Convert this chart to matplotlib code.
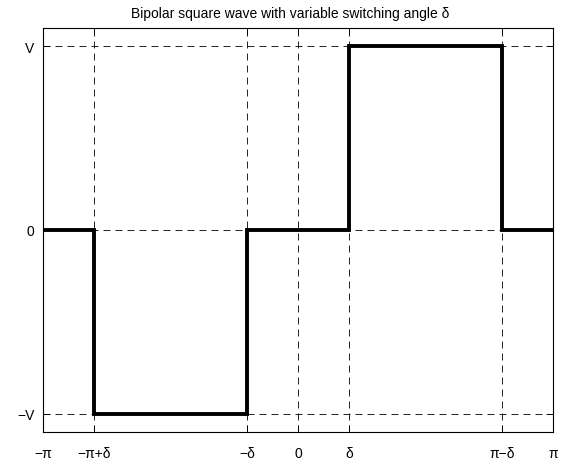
import numpy as np
import matplotlib
matplotlib.use("Agg")
import matplotlib.pyplot as plt

plt.rcParams['font.family'] = ['Liberation Sans', 'DejaVu Sans']

delta = np.pi / 5
edges = [-np.pi, -np.pi + delta, -delta, delta, np.pi - delta, np.pi]
levels = [0, -1, 0, 1, 0]
xticks = [-np.pi, -np.pi + delta, -delta, 0, delta, np.pi - delta, np.pi]
xticklabels = ['−π', '−π+δ', '−δ', '0', 'δ', 'π−δ', 'π']
yticks = [-1, 0, 1]
yticklabels = ['−V', '0', 'V']
title = 'Bipolar square wave with variable switching angle δ'

fig = plt.figure(figsize=(5.71, 4.64), dpi=100)
ax = fig.add_axes([43/571, 31/464, 510/571, 404/464])
ax.stairs(levels, edges, baseline=None, color='black', linewidth=2.8)
ax.set_xlim(-np.pi, np.pi)
ax.set_ylim(-1.1, 1.1)
ax.set_xticks(xticks)
ax.set_xticklabels(xticklabels)
ax.set_yticks(yticks)
ax.set_yticklabels(yticklabels)
ax.grid(True, color='black', linestyle=(0, (8.4, 6)), linewidth=0.6)
ax.tick_params(direction='in', top=True, right=True, length=5, width=0.6,
               labelsize=10, pad=6)
ax.tick_params(axis='x', pad=10)
for s in ax.spines.values():
    s.set_linewidth(0.8)
ax.set_title(title, fontsize=10, pad=8, x=0.484)
fig.savefig('out.png', dpi=100)
